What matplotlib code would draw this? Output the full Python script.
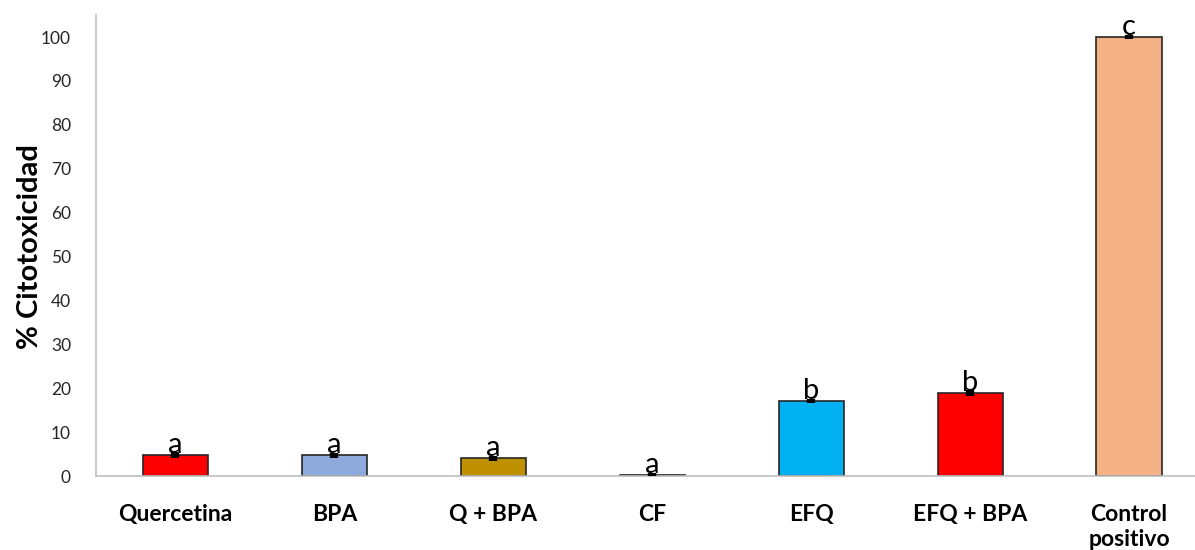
import matplotlib
matplotlib.use("Agg")
import matplotlib.pyplot as plt

categories = ["Quercetina", "BPA", "Q + BPA", "CF", "EFQ", "EFQ + BPA", "Control\npositivo"]
values = [4.8, 4.7, 4.0, 0.3, 17.1, 18.9, 100.0]
errors = [0.6, 0.6, 0.6, 0.5, 0.5, 0.6, 0.5]
letters = ["a", "a", "a", "a", "b", "b", "c"]
colors = ["#FF0000", "#8EA9DB", "#BF9000", "#A5A5A5", "#00B0F0", "#FF0000", "#F4B183"]
yticks = [0, 10, 20, 30, 40, 50, 60, 70, 80, 90, 100]

plt.rcParams['font.family'] = ['Lato', 'DejaVu Sans']

fig = plt.figure(figsize=(11.95, 5.5), dpi=100)
ax = fig.add_axes([0.0803, 0.1345, 0.931, 0.838])

x = list(range(len(categories)))
ax.bar(x, values, width=0.41, color=colors, edgecolor="#262626", linewidth=1.2, zorder=2)
ax.errorbar(x, values, yerr=errors, fmt="none", ecolor="black", elinewidth=6, capsize=0, zorder=3)
for xi, v, e, l in zip(x, values, errors, letters):
    ax.text(xi, v + e - 1.2, l, ha="center", va="bottom", fontsize=21, color="black", zorder=4)

ax.set_xlim(-0.5, 6.5)
ax.set_ylim(0, 105)
ax.set_yticks(yticks)
ax.set_yticklabels([str(t) for t in yticks], fontsize=12.5, color="#262626")
ax.set_xticks(x)
ax.set_xticklabels(categories, fontsize=16.5, fontweight="bold", color="black", va="top",
                   linespacing=1.25)
ax.tick_params(axis="both", length=0)
ax.tick_params(axis="x", pad=20)
ax.tick_params(axis="y", pad=18)
for s in ["top", "right"]:
    ax.spines[s].set_visible(False)
ax.spines["left"].set_color("#BFBFBF")
ax.spines["bottom"].set_color("#BFBFBF")
ax.spines["left"].set_linewidth(1.2)
ax.spines["bottom"].set_linewidth(1.2)
fig.text(30 / 1195, 1 - 247 / 550, "% Citotoxicidad", rotation=90, fontsize=21,
         fontweight="bold", ha="center", va="center")

fig.savefig("out.png", dpi=100)
